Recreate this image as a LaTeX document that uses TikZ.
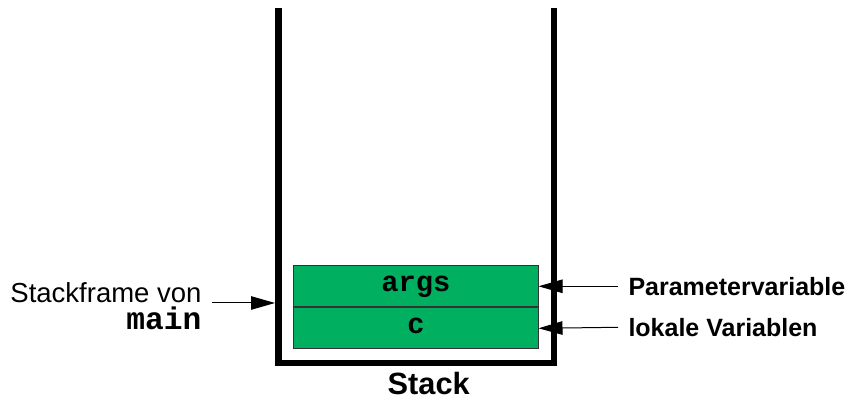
\documentclass[tikz,border=0pt]{standalone}
\usepackage{fontspec}
\setmainfont{Liberation Sans}
\setmonofont{Liberation Mono}
\usetikzlibrary{arrows.meta,positioning}
\definecolor{vertpile}{RGB}{0,176,96}
\tikzset{
  case/.style={draw=black!80, fill=vertpile, line width=0.4pt,
    minimum width=97.6pt, minimum height=16.4pt, inner sep=0pt,
    text height=6.5pt, text depth=2.5pt,
    font=\fontsize{11.5}{13}\selectfont\ttfamily\bfseries},
  etiquette/.style={inner sep=0pt, anchor=west, font=\fontsize{10}{12}\selectfont\bfseries},
  fleche/.style={-{Triangle[length=9.6pt,width=5.4pt]}, line width=0.4pt},
}
\begin{document}
\begin{tikzpicture}[x=0.4pt,y=-0.4pt]
  \useasboundingbox (0,0) rectangle (848,398);

  % Pile ouverte en haut
  \draw[line width=2.6pt] (278.5,8) -- (278.5,363) -- (554,363) -- (554,8);
  \node[anchor=base, inner sep=0pt, font=\fontsize{12.3}{14}\selectfont\bfseries] (pile) at (428.7,395) {Stack};

  % Cadre de pile de main (deux cases)
  \node[case] (args) at (416,286.3) {args};
  \node[case, below=0pt of args] (var) {c};

  % Legendes a droite
  \node[etiquette] (param) at (628,286.3) {Parametervariable};
  \node[etiquette] (lokal) at (628,327.3) {lokale Variablen};
  \draw[fleche] ([xshift=-4pt]param.west) -- (args.east);
  \draw[fleche] ([xshift=-4pt]lokal.west) -- (var.east);

  % Legende a gauche
  \node[anchor=base east, inner sep=0pt, font=\fontsize{11}{13}\selectfont] (sf) at (202,303) {Stackframe von};
  \node[anchor=base east, inner sep=0pt, font=\fontsize{12.5}{15}\selectfont\ttfamily\bfseries] (mainlbl) at (202,329.5) {main};
  \coordinate (rand) at (275,303);
  \draw[fleche] (sf.base east) ++(4pt,0) -- (rand);
\end{tikzpicture}
\end{document}
